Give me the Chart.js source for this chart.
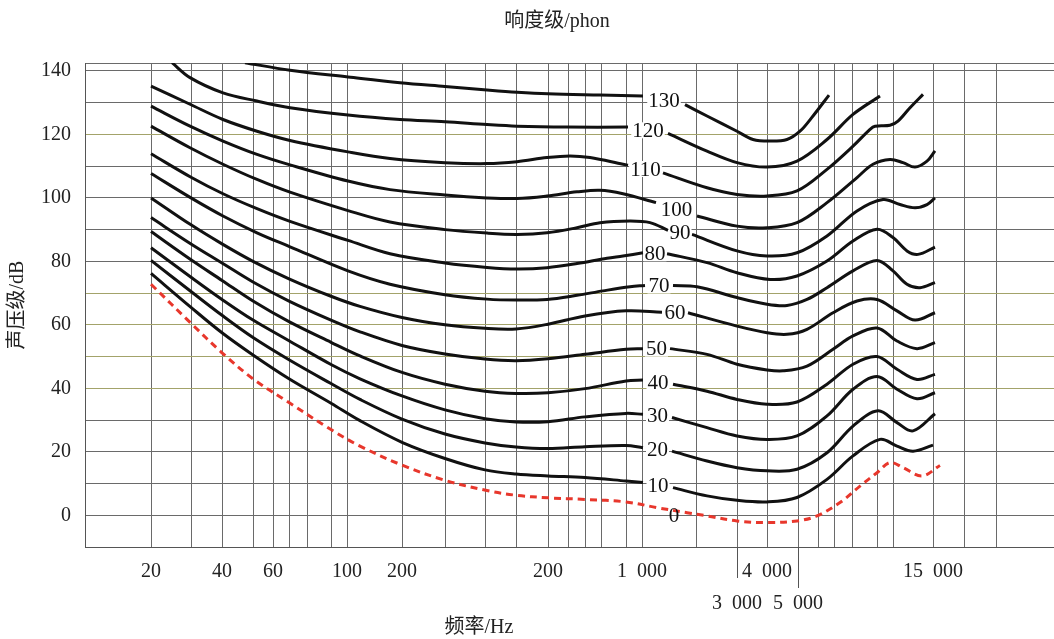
<!DOCTYPE html>
<html>
<head>
<meta charset="utf-8">
<script src="https://cdn.jsdelivr.net/npm/chart.js@4.4.1/dist/chart.umd.min.js"></script>
<style>
  html, body { margin: 0; padding: 0; background: #fff; }
  #wrap { width: 1054px; height: 639px; }
</style>
</head>
<body>
<div id="wrap"><canvas id="chart"></canvas></div>
<script>
// 等响曲线 - x 为图上横向位置（0 = 左框线），y 为声压级 dB
const serif = '"Liberation Serif", "Noto Sans CJK SC", serif';

// 竖向网格线位置（原图网格并不严格按对数排列）
const xGrid = [66, 106, 137, 168, 188, 204, 222, 246, 262, 317, 360, 400, 431, 463, 483, 500,
               516, 541, 557, 611, 652, 682, 713, 733, 749, 767, 792, 808, 848, 879, 911];
const freqTickAt = [66, 137, 188, 262, 317, 463, 557, 652, 682, 713, 848];
const freqTickText = ['20', '40', '60', '100', '200', '200', '1\u2002000', '3\u2002000', '4\u2002000', '5\u2002000', '15\u2002000'];
const lowerRowTicks = ['3\u2002000', '5\u2002000'];

const yGrid = [-10, 0, 10, 20, 30, 40, 50, 60, 70, 80, 90, 100, 110, 120, 130, 140, 142.5];
const oliveLines = [120, 70, 60, 50, 40];

const phon = [0, 10, 20, 30, 40, 50, 60, 70, 80, 90, 100, 110, 120, 130];

// null = 曲线在标注数字处断开
const curve0 = [[66,72.8],[106,60.5],[137,51.2],[168,43.0],[204,35.5],[246,27.0],[275,21.8],[317,15.8],[360,11.0],
  [402,7.8],[431,6.3],[463,5.5],[500,5.0],[541,4.2],[572,2.4],[602,0.8],[622,-0.2],[652,-1.8],[682,-2.3],
  [712,-1.8],[732,-0.2],[755,4.0],[775,9.2],[792,13.4],[805,16.6],[818,15.0],[837,12.4],[855,15.7]];
const curve10 = [[66,76.2],[106,65.5],[137,57.5],[168,50.5],[204,43.0],[246,35.3],[275,29.8],[317,23.0],[360,17.9],
  [400,14.3],[431,13.0],[463,12.4],[500,11.9],[541,10.8],[558,10.3], null,
  [588,8.7],[622,6.1],[652,4.7],[682,4.2],[712,5.6],[742,11.3],[768,18.7],[795,23.9],[812,21.8],[828,20.2],[848,22.1]];
const curve20 = [[66,80.3],[106,70.5],[137,63.0],[168,56.0],[204,49.0],[246,41.5],[275,36.5],[317,30.3],[360,25.6],
  [400,22.8],[431,21.5],[463,21.0],[500,21.6],[541,22.0],[558,21.3], null,
  [587,20.2],[622,17.1],[652,15.0],[682,14.0],[712,14.5],[742,19.7],[768,28.1],[793,32.9],[812,29.2],[828,26.6],[850,32.0]];
const curve30 = [[66,84.3],[106,75.0],[137,68.0],[168,61.5],[204,55.0],[246,47.5],[275,43.0],[317,37.6],[360,33.2],
  [400,30.4],[431,29.4],[463,29.5],[500,31.0],[541,32.1],[558,31.8], null,
  [587,30.8],[622,27.6],[652,25.0],[682,23.9],[712,25.0],[742,31.3],[768,39.7],[792,43.7],[812,39.7],[832,36.7],[850,38.6]];
const curve40 = [[66,89.4],[106,80.5],[137,74.0],[168,67.5],[204,61.0],[246,54.5],[275,50.2],[317,45.0],[360,41.3],
  [400,39.1],[431,38.4],[463,38.6],[500,39.9],[541,42.3],[558,42.6], null,
  [588,41.3],[622,39.1],[652,36.5],[682,35.0],[712,35.7],[742,41.3],[768,47.6],[792,50.0],[812,46.0],[832,42.8],[850,44.4]];
const curve50 = [[66,93.8],[106,85.5],[137,79.5],[168,73.5],[204,67.5],[246,61.5],[275,57.8],[317,53.5],[360,50.8],
  [400,49.2],[431,48.7],[463,49.3],[500,50.7],[541,52.3],[558,52.5], null,
  [585,52.5],[622,50.7],[652,47.6],[682,45.8],[698,45.5],[722,47.0],[748,52.3],[768,56.5],[792,59.0],[812,54.9],[832,52.5],[850,54.4]];
const curve60 = [[66,100.0],[106,91.5],[137,85.5],[168,80.0],[204,74.5],[246,69.0],[275,65.8],[317,62.3],[360,60.0],
  [400,58.9],[431,58.7],[463,60.2],[500,62.8],[541,64.4],[577,64.0], null,
  [603,63.8],[652,59.6],[682,57.5],[702,57.0],[722,58.6],[748,63.8],[772,67.5],[792,68.0],[812,64.4],[830,61.5],[850,63.8]];
const curve70 = [[66,107.7],[106,100.0],[138,94.3],[172,89.0],[205,84.6],[263,77.0],[305,72.8],[360,69.5],[402,68.1],
  [432,67.8],[462,68.0],[492,69.3],[518,70.7],[545,72.0],[560,72.4], null,
  [588,72.4],[612,72.0],[652,68.6],[682,66.5],[702,66.1],[722,68.0],[742,71.7],[768,77.0],[792,80.3],[808,77.0],[822,72.8],[835,71.7],[850,73.3]];
const curve80 = [[66,113.9],[106,106.5],[138,101.3],[172,96.6],[205,92.6],[263,86.6],[305,82.4],[360,79.5],[402,78.1],
  [432,77.6],[462,78.0],[492,79.3],[522,81.0],[538,81.7],[558,82.7], null,
  [582,82.4],[622,79.6],[652,76.4],[685,74.3],[712,75.4],[742,80.1],[768,86.4],[792,90.1],[808,87.5],[822,83.3],[833,82.2],[850,84.5]];
const curve90 = [[66,122.6],[105,115.8],[138,110.6],[172,105.8],[205,101.8],[263,96.0],[305,92.4],[360,90.0],[402,88.9],
  [432,88.5],[462,89.0],[492,90.6],[515,92.2],[545,92.7],[565,92.2],[583,89.8], null,
  [607,88.5],[652,83.3],[682,81.7],[712,82.7],[742,88.0],[772,95.9],[798,99.5],[815,97.9],[830,96.9],[842,97.9],[850,100.0]];
const curve100 = [[66,128.9],[105,122.6],[138,117.9],[172,113.7],[205,110.4],[263,105.3],[305,102.6],[360,100.9],[402,100.0],
  [432,99.8],[462,100.6],[492,101.9],[515,102.4],[538,101.3],[571,98.5], null,
  [612,94.3],[652,91.1],[682,90.6],[712,92.2],[742,98.5],[772,106.4],[788,110.6],[805,112.1],[818,111.1],[830,109.7],[842,111.6],[850,114.8]];
const curve110 = [[66,135.2],[105,129.5],[138,124.7],[172,121.0],[205,118.1],[263,114.5],[305,112.4],[360,111.1],[402,110.8],
  [432,111.4],[462,112.7],[485,113.2],[505,112.7],[538,110.6],[543,110.3], null,
  [578,107.9],[622,103.2],[652,101.1],[682,100.6],[712,102.2],[742,109.0],[768,116.3],[785,121.6],[790,122.6],[805,122.9],[813,124.2],[825,128.4],[838,132.6]];
const curve120 = [[87,142.6],[105,137.9],[138,133.1],[172,130.5],[205,128.4],[263,126.1],[315,124.7],[360,124.0],[402,123.1],
  [432,122.6],[482,122.3],[543,122.3], null,
  [583,120.3],[622,114.7],[652,111.1],[682,109.7],[712,111.6],[742,118.4],[768,126.3],[795,132.1]];
const curve130 = [[160,142.6],[205,140.2],[263,138.1],[315,136.3],[360,135.1],[402,134.0],[432,133.3],[463,132.8],
  [515,132.4],[558,132.1], null,
  [600,129.4],[622,125.8],[652,121.0],[668,118.4],[685,117.9],[702,118.4],[715,121.0],[728,125.8],[744,132.4]];

const curves = [curve0, curve10, curve20, curve30, curve40, curve50, curve60,
                curve70, curve80, curve90, curve100, curve110, curve120, curve130];
const zeroLabelAt = [589, 0];

function toPoints(pts) {
    return pts.map((p, i) => {
        if (p) return { x: p[0], y: p[1] };
        return { x: (pts[i - 1][0] + pts[i + 1][0]) / 2, y: null };
    });
}

function freqLabel(value) {
    const i = freqTickAt.indexOf(value);
    if (i < 0) return '';
    const text = freqTickText[i];
    return lowerRowTicks.includes(text) ? ['', text] : text;
}

// 等响曲线上的数值标注
const curveLabels = {
    id: 'curveLabels',
    afterDatasetsDraw(chart) {
        const { ctx, scales: { x, y } } = chart;
        ctx.save();
        ctx.font = '21px ' + serif;
        ctx.textAlign = 'center';
        ctx.textBaseline = 'middle';
        phon.forEach((level, i) => {
            const pts = curves[i];
            const gap = pts.indexOf(null);
            const text = String(level);
            let px, py;
            if (gap < 0) {
                px = x.getPixelForValue(zeroLabelAt[0]);
                py = y.getPixelForValue(zeroLabelAt[1]);
            } else {
                const a = pts[gap - 1], b = pts[gap + 1];
                px = x.getPixelForValue((a[0] + b[0]) / 2);
                py = y.getPixelForValue((a[1] + b[1]) / 2);
                const w = ctx.measureText(text).width;
                ctx.fillStyle = '#fff';
                ctx.fillRect(px - w / 2 - 1, py - 8, w + 2, 16);
            }
            ctx.fillStyle = '#111';
            ctx.fillText(text, px, py + 1);
        });
        ctx.restore();
    }
};

// 标题和 3 000 / 5 000 的加长刻度
const extras = {
    id: 'extras',
    afterDraw(chart) {
        const { ctx, chartArea, scales: { x } } = chart;
        ctx.save();
        ctx.strokeStyle = '#555';
        ctx.lineWidth = 1;
        [[652, 31], [713, 41]].forEach(([v, len]) => {
            const px = Math.round(x.getPixelForValue(v)) + 0.5;
            ctx.beginPath();
            ctx.moveTo(px, chartArea.bottom);
            ctx.lineTo(px, chartArea.bottom + len);
            ctx.stroke();
        });
        ctx.fillStyle = '#222';
        ctx.font = '20px ' + serif;
        ctx.textAlign = 'center';
        ctx.textBaseline = 'middle';
        ctx.fillText('响度级/phon', 557, 22);
        ctx.fillText('频率/Hz', 479, 628);
        ctx.restore();
    }
};

const datasets = curves.map((pts, i) => ({
    label: phon[i] + ' phon',
    data: toPoints(pts),
    borderColor: i === 0 ? '#e8372c' : '#111',
    borderWidth: 3,
    borderDash: i === 0 ? [7, 5] : [],
    pointRadius: 0,
    tension: 0.35,
    spanGaps: false,
    fill: false
}));

new Chart(document.getElementById('chart'), {
    type: 'line',
    data: { datasets },
    options: {
        responsive: true,
        maintainAspectRatio: false,
        animation: false,
        layout: { padding: { top: 63, left: 0, right: 0, bottom: 0 } },
        plugins: { legend: { display: false }, tooltip: { enabled: false } },
        scales: {
            x: {
                type: 'linear',
                min: 0,
                max: 969,
                afterBuildTicks: s => { s.ticks = xGrid.map(v => ({ value: v })); },
                afterFit: s => { s.height = 92; },
                grid: { color: '#6a6a6a', lineWidth: 1, drawTicks: false },
                border: { color: '#555' },
                ticks: {
                    autoSkip: false,
                    maxRotation: 0,
                    padding: 9,
                    color: '#222',
                    font: { family: serif, size: 20, lineHeight: 1.6 },
                    callback: v => freqLabel(v)
                }
            },
            y: {
                type: 'linear',
                min: -10,
                max: 142.5,
                afterBuildTicks: s => { s.ticks = yGrid.map(v => ({ value: v })); },
                afterFit: s => { s.width = 85; },
                grid: {
                    drawTicks: false,
                    lineWidth: 1,
                    color: c => oliveLines.includes(c.tick.value) ? '#a3a36a' : '#6a6a6a'
                },
                border: { color: '#555' },
                title: {
                    display: true,
                    text: '声压级/dB',
                    color: '#222',
                    font: { family: serif, size: 20 },
                    padding: { top: 6, bottom: 0 }
                },
                ticks: {
                    padding: 14,
                    color: '#222',
                    font: { family: serif, size: 20 },
                    callback: v => (v >= 0 && v <= 140 && v % 20 === 0) ? String(v) : ''
                }
            }
        }
    },
    plugins: [curveLabels, extras]
});
</script>
</body>
</html>
